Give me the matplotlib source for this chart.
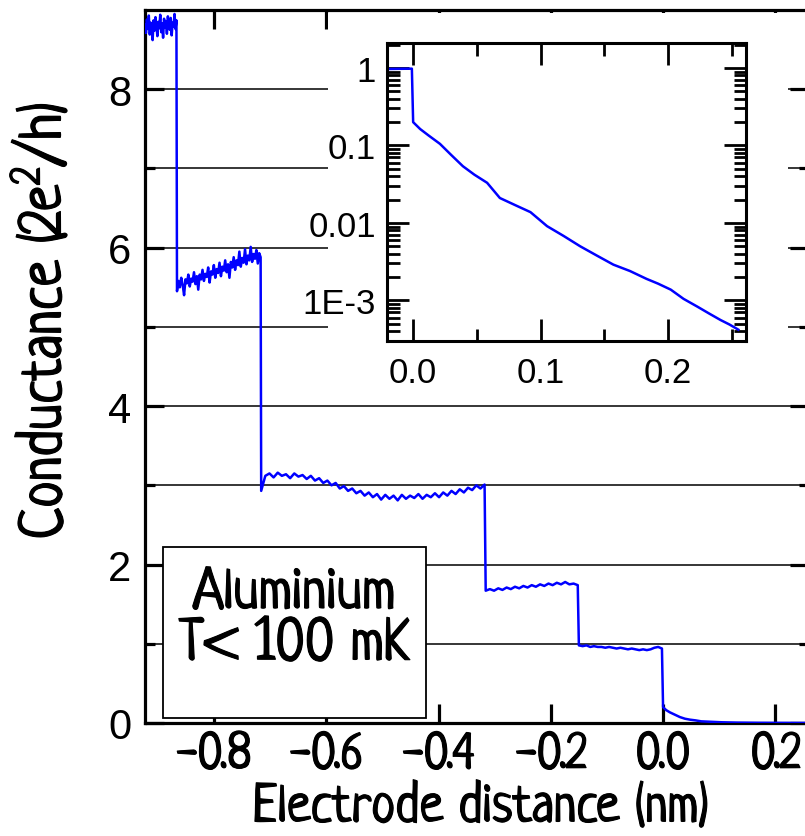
import numpy as np
import matplotlib.pyplot as plt
import matplotlib.patheffects as pe
from matplotlib.patches import Rectangle
from matplotlib.ticker import FixedLocator, LogLocator, NullFormatter, FixedFormatter

hand = ['Neucha', 'DejaVu Sans']
plain = ['Liberation Sans', 'DejaVu Sans']
plt.rcParams['mathtext.fontset'] = 'custom'
plt.rcParams['mathtext.rm'] = 'Neucha'
plt.rcParams['mathtext.it'] = 'Neucha'
thick = [pe.withStroke(linewidth=0.8, foreground='black')]

# conductance trace, plateau by plateau
plat_a = (-0.923, -0.867)
g_a = [8.82, 8.71, 8.88, 8.76, 8.93, 8.69, 8.84, 8.79, 8.62, 8.87, 8.74, 8.91,
       8.80, 8.67, 8.85, 8.77, 8.94, 8.72, 8.83, 8.65, 8.89, 8.78, 8.86, 8.70,
       8.92, 8.81, 8.75, 8.90, 8.68, 8.84, 8.79, 8.95, 8.76, 8.87]
plat_b = (-0.866, -0.717)
g_b = [5.45, 5.58, 5.50, 5.62, 5.53, 5.40, 5.60, 5.55, 5.66, 5.51, 5.61, 5.57,
       5.69, 5.54, 5.64, 5.47, 5.66, 5.60, 5.72, 5.58, 5.67, 5.63, 5.75, 5.56,
       5.70, 5.66, 5.78, 5.62, 5.73, 5.68, 5.81, 5.64, 5.76, 5.71, 5.84, 5.69,
       5.79, 5.62, 5.82, 5.75, 5.88, 5.72, 5.84, 5.78, 5.95, 5.76, 5.87, 5.81,
       5.98, 5.79, 5.90, 5.84, 6.01, 5.82, 5.92, 5.86, 5.97, 5.80, 5.93, 5.88]
plat_c = (-0.716, -0.318)
g_c = [2.93, 3.12, 3.15, 3.10, 3.16, 3.12, 3.14, 3.09, 3.15, 3.11, 3.13, 3.08,
       3.12, 3.06, 3.09, 3.03, 3.06, 3.00, 3.03, 2.96, 2.99, 2.93, 2.96, 2.90,
       2.93, 2.87, 2.91, 2.85, 2.89, 2.82, 2.88, 2.83, 2.87, 2.81, 2.88, 2.83,
       2.87, 2.84, 2.89, 2.83, 2.88, 2.85, 2.90, 2.85, 2.91, 2.87, 2.93, 2.89,
       2.95, 2.91, 2.97, 2.94, 3.00, 2.96, 3.01]
plat_d = (-0.316, -0.152)
g_d = [1.67, 1.69, 1.67, 1.70, 1.68, 1.71, 1.69, 1.72, 1.70, 1.73, 1.71, 1.74,
       1.72, 1.75, 1.73, 1.76, 1.74, 1.77, 1.75, 1.78, 1.75, 1.76, 1.74]
plat_e = (-0.150, -0.002)
g_e = [0.98, 0.97, 0.98, 0.96, 0.97, 0.96, 0.96, 0.95, 0.96, 0.95, 0.94, 0.95,
       0.94, 0.93, 0.94, 0.93, 0.92, 0.93, 0.92, 0.93, 0.95, 0.96, 0.94]

# tunnelling tail (also shown in the inset)
tail_x = [0.000, 0.0055, 0.012, 0.021, 0.030, 0.039, 0.048, 0.058, 0.068, 0.080,
          0.092, 0.105, 0.118, 0.131, 0.144, 0.157, 0.170, 0.183, 0.192, 0.202,
          0.212, 0.223, 0.232, 0.241, 0.248, 0.255]
tail_g = [0.20, 0.163, 0.135, 0.105, 0.075, 0.054, 0.042, 0.033, 0.021, 0.0170,
          0.0138, 0.0091, 0.0068, 0.0050, 0.0038, 0.0029, 0.0024, 0.0019, 0.00165, 0.00138,
          0.00105, 0.00083, 0.00068, 0.00056, 0.00049, 0.00042]
pre_x = [-0.0205, -0.001]
pre_g = [0.97, 0.98]

plats = [(plat_a, g_a), (plat_b, g_b), (plat_c, g_c), (plat_d, g_d), (plat_e, g_e)]
xs, gs = [], []
for (x0, x1), g in plats:
    xs.extend(np.linspace(x0, x1, len(g)))
    gs.extend(g)
xs.extend(tail_x)
gs.extend(tail_g)

fig = plt.figure(figsize=(8.05, 8.37), dpi=100)
ax = fig.add_axes([145 / 805, 113 / 837, 664 / 805, 713 / 837])
ax.plot(xs, gs, color='#0000ff', lw=1.8, zorder=3)
ax.set_xlim(-0.923, 0.26)
ax.set_ylim(0, 9)

ax.yaxis.set_major_locator(FixedLocator([0, 2, 4, 6, 8]))
ax.yaxis.set_minor_locator(FixedLocator([1, 3, 5, 7]))
ax.xaxis.set_major_locator(FixedLocator([-0.8, -0.6, -0.4, -0.2, 0.0, 0.2]))
ax.xaxis.set_major_formatter(FixedFormatter(['-0.8', '-0.6', '-0.4', '-0.2', '0.0', '0.2']))
ax.grid(True, which='both', axis='y', color='black', lw=1.1)
ax.set_axisbelow(True)
for s in ax.spines.values():
    s.set_linewidth(2.3)
ax.tick_params(which='both', direction='in', top=True, right=True, width=2.3)
ax.tick_params(which='major', length=14, pad=10)
ax.tick_params(which='minor', length=7)
for lab in ax.get_yticklabels():
    lab.set_family(plain)
    lab.set_fontsize(30)
for lab in ax.get_xticklabels():
    lab.set_family(hand)
    lab.set_fontsize(36)
    lab.set_path_effects(thick)
ax.tick_params(axis='x', pad=8)

ax.set_xlabel('Electrode distance (nm)', family=hand, fontsize=39, path_effects=thick)
ax.xaxis.set_label_coords(0.505, -0.087)
ax.set_ylabel('Conductance (2e$^{2}$/h)', family=hand, fontsize=43, path_effects=thick)
ax.yaxis.set_label_coords(-0.10, 0.564)

# label box
ax.add_patch(Rectangle((0.027, 0.007), 0.396, 0.240, transform=ax.transAxes,
                       facecolor='white', edgecolor='black', lw=1.3, zorder=4))
ax.text(0.225, 0.176, 'Aluminium', transform=ax.transAxes, ha='center', va='center',
        family=hand, fontsize=42, zorder=5, path_effects=thick)
ax.text(0.225, 0.104, 'T< 100 mK', transform=ax.transAxes, ha='center', va='center',
        family=hand, fontsize=42, zorder=5, path_effects=thick)

# white backing for the inset and its labels
fig.patches.append(Rectangle((328 / 805, 439 / 837), 460 / 805, 384 / 837,
                             transform=fig.transFigure, facecolor='white',
                             edgecolor='none', zorder=1))

axi = fig.add_axes([387 / 805, 495 / 837, 359 / 805, 298 / 837])
axi.set_zorder(2)
axi.plot(pre_x + tail_x, pre_g + tail_g, color='#0000ff', lw=1.8)
axi.set_yscale('log')
axi.set_xlim(-0.0205, 0.261)
axi.set_ylim(3.0e-4, 2.1)
axi.yaxis.set_major_locator(FixedLocator([1e-3, 1e-2, 1e-1, 1]))
axi.yaxis.set_major_formatter(FixedFormatter(['1E-3', '0.01', '0.1', '1']))
axi.yaxis.set_minor_locator(LogLocator(base=10, subs=np.arange(2, 10)))
axi.yaxis.set_minor_formatter(NullFormatter())
axi.xaxis.set_major_locator(FixedLocator([0.0, 0.1, 0.2]))
axi.xaxis.set_major_formatter(FixedFormatter(['0.0', '0.1', '0.2']))
axi.xaxis.set_minor_locator(FixedLocator([0.05, 0.15, 0.25]))
for s in axi.spines.values():
    s.set_linewidth(2.2)
axi.tick_params(which='both', direction='in', top=True, right=True, width=2)
axi.tick_params(which='major', length=16, labelsize=25, pad=8)
axi.tick_params(which='minor', length=9)
axi.tick_params(axis='x', pad=11)
for lab in axi.get_xticklabels() + axi.get_yticklabels():
    lab.set_family(plain)

fig.savefig('out.png', dpi=100)
